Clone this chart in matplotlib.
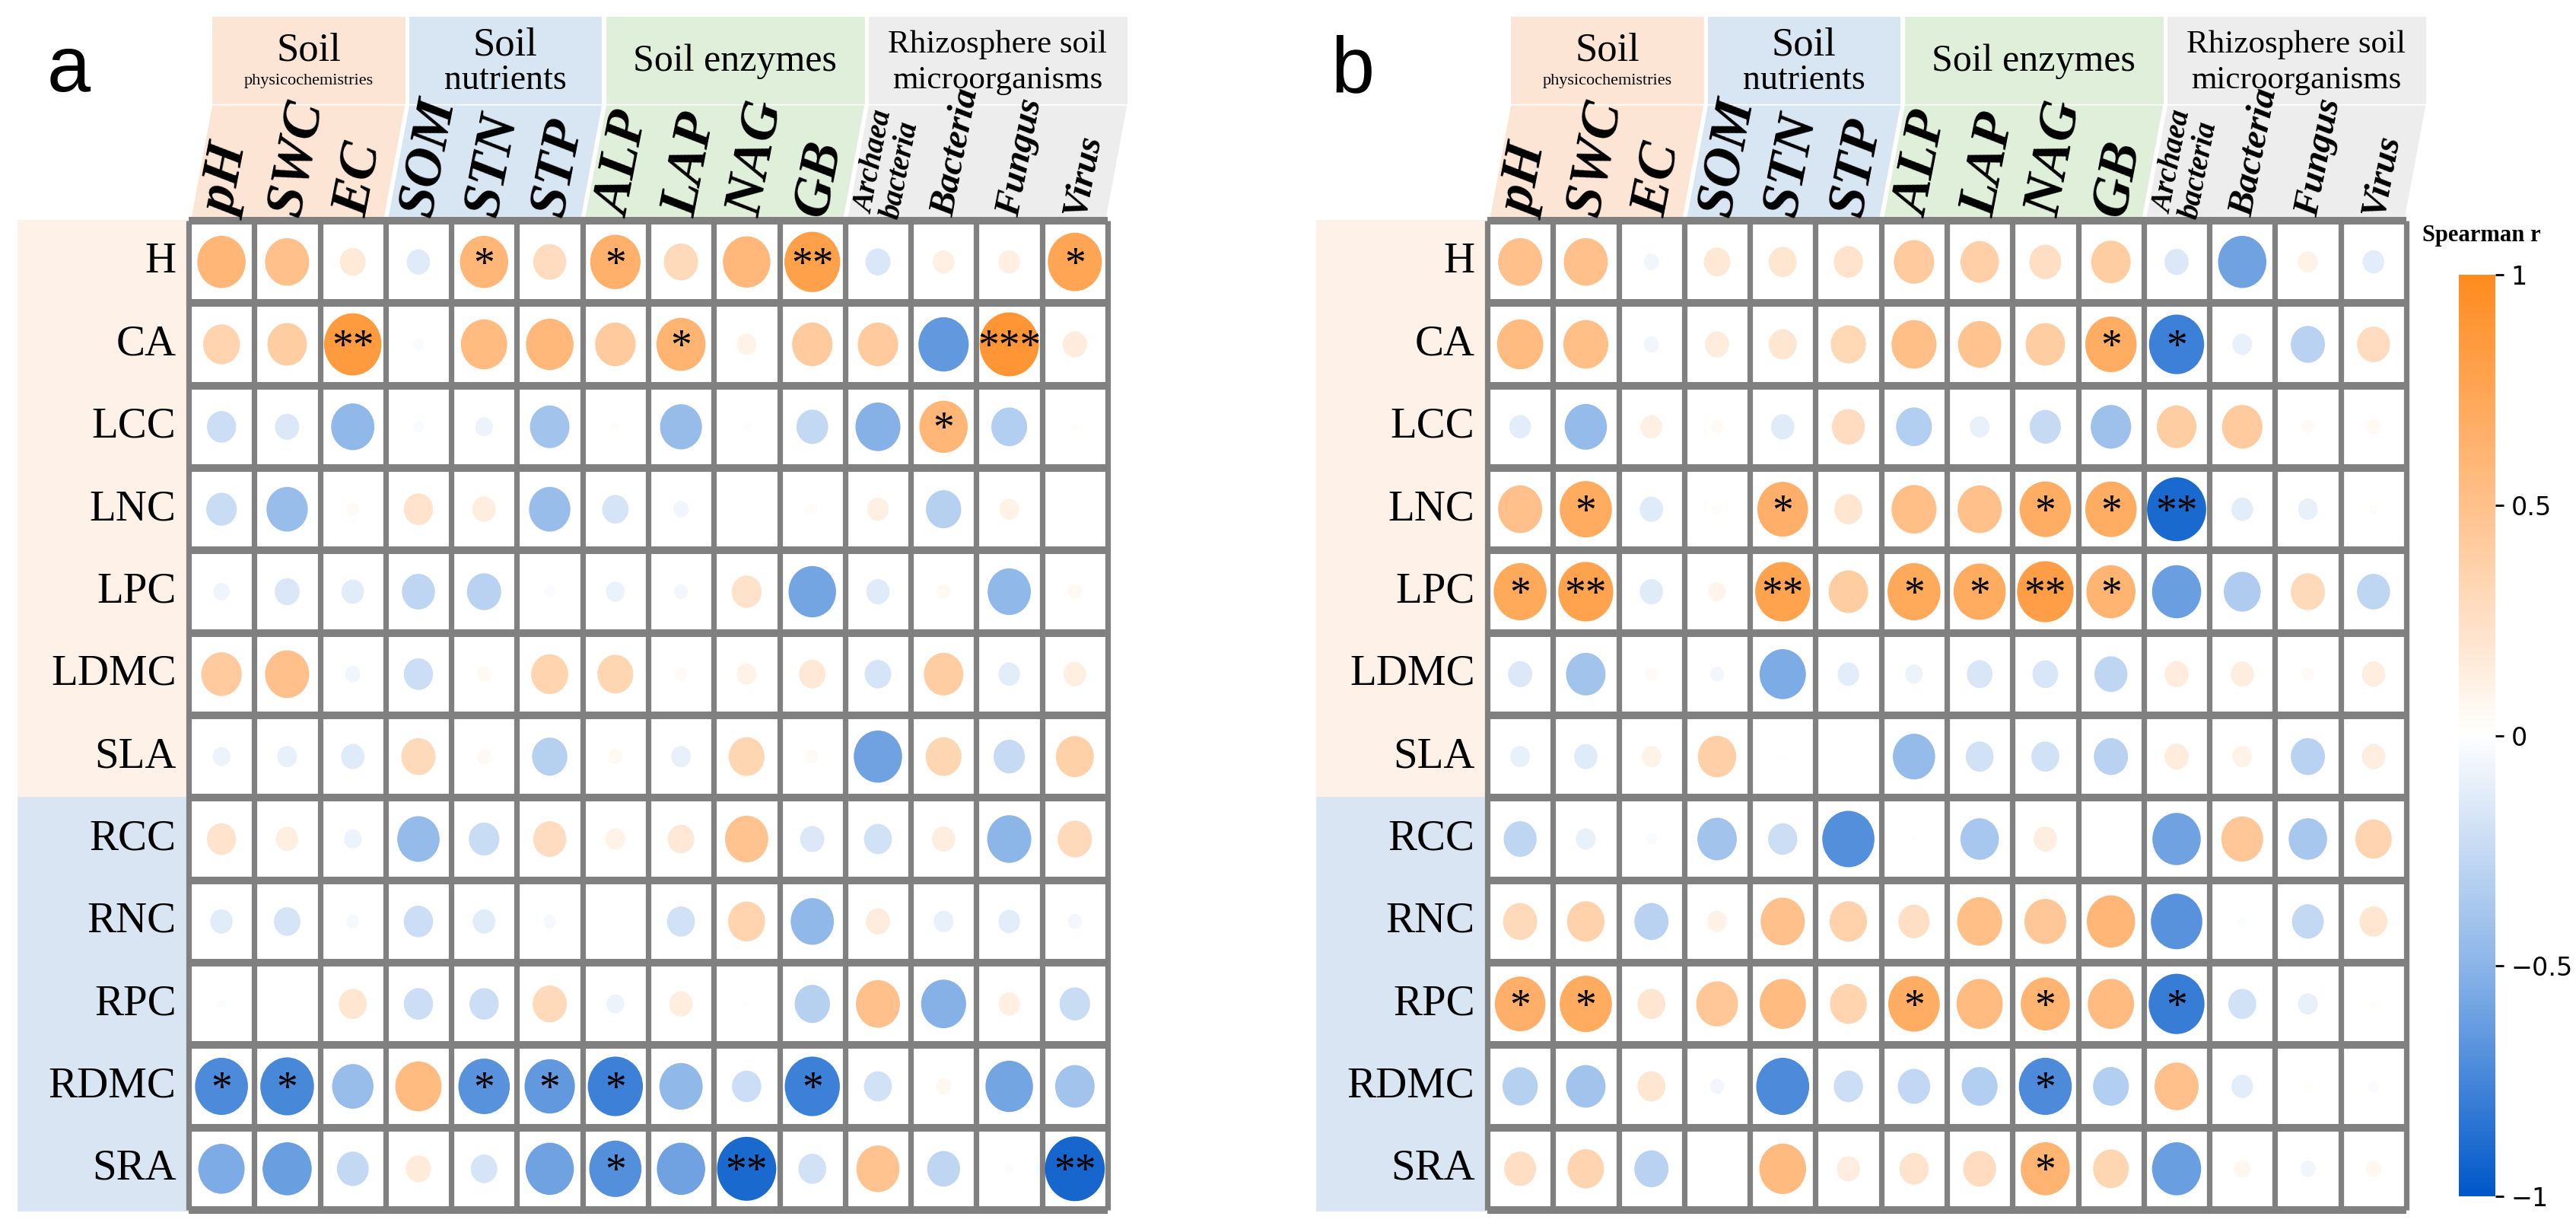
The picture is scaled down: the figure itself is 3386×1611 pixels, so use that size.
import numpy as np
import matplotlib.pyplot as plt
from matplotlib.collections import EllipseCollection
from matplotlib.colors import LinearSegmentedColormap, Normalize
from matplotlib.patches import Polygon, Rectangle

# ---- data -------------------------------------------------------------
traits = ['H', 'CA', 'LCC', 'LNC', 'LPC', 'LDMC', 'SLA',
          'RCC', 'RNC', 'RPC', 'RDMC', 'SRA']
trait_groups = [7, 5]          # leaf / root traits
soil_vars = ['pH', 'SWC', 'EC', 'SOM', 'STN', 'STP', 'ALP', 'LAP', 'NAG', 'GB',
             'Archaea\nbacteria', 'Bacteria', 'Fungus', 'Virus']
var_groups = ['Soil\n', 'Soil\nnutrients', 'Soil enzymes',
              'Rhizosphere soil\nmicroorganisms']
var_group_n = [3, 3, 4, 4]

r_a = [
    [0.60, 0.50, 0.17, -0.14, 0.60, 0.28, 0.65, 0.30, 0.58, 0.80, -0.16, 0.12, 0.12, 0.75],
    [0.35, 0.40, 0.85, -0.03, 0.55, 0.58, 0.42, 0.62, 0.10, 0.42, 0.42, -0.65, 0.90, 0.15],
    [-0.22, -0.15, -0.48, -0.03, -0.08, -0.40, 0.02, -0.45, 0.02, -0.26, -0.52, 0.60, -0.33, 0.02],
    [-0.24, -0.44, 0.04, 0.22, 0.14, -0.44, -0.18, -0.06, 0.00, 0.03, 0.12, -0.32, 0.10, 0.00],
    [-0.07, -0.16, -0.13, -0.28, -0.30, -0.03, -0.09, -0.05, 0.23, -0.58, -0.14, 0.05, -0.48, 0.05],
    [0.42, 0.50, -0.06, -0.22, 0.05, 0.35, 0.33, 0.04, 0.10, 0.18, -0.18, 0.40, -0.12, 0.13],
    [-0.08, -0.10, -0.14, 0.30, 0.05, -0.32, 0.05, -0.10, 0.33, 0.04, -0.60, 0.33, -0.25, 0.37],
    [0.22, 0.13, -0.08, -0.46, -0.24, 0.28, 0.10, 0.18, 0.48, -0.15, -0.20, 0.14, -0.50, 0.30],
    [-0.13, -0.18, -0.04, -0.22, -0.13, -0.04, 0.00, -0.20, 0.35, -0.48, 0.15, -0.10, -0.12, -0.05],
    [-0.02, 0.00, 0.20, -0.22, -0.22, 0.30, -0.08, 0.14, 0.01, -0.32, 0.50, -0.52, 0.12, -0.24],
    [-0.72, -0.74, -0.44, 0.55, -0.68, -0.65, -0.78, -0.48, -0.22, -0.78, -0.20, 0.06, -0.58, -0.40],
    [-0.55, -0.62, -0.26, 0.16, -0.18, -0.60, -0.70, -0.60, -0.90, -0.20, 0.48, -0.28, -0.02, -0.92],
]
sig_a = [
    ['', '', '', '', '*', '', '*', '', '', '**', '', '', '', '*'],
    ['', '', '**', '', '', '', '', '*', '', '', '', '', '***', ''],
    ['', '', '', '', '', '', '', '', '', '', '', '*', '', ''],
    [''] * 14, [''] * 14, [''] * 14, [''] * 14, [''] * 14, [''] * 14, [''] * 14,
    ['*', '*', '', '', '*', '*', '*', '', '', '*', '', '', '', ''],
    ['', '', '', '', '', '', '*', '', '**', '', '', '', '', '**'],
]

r_b = [
    [0.50, 0.50, -0.06, 0.18, 0.20, 0.22, 0.42, 0.38, 0.26, 0.40, -0.15, -0.60, 0.10, -0.12],
    [0.55, 0.52, -0.06, 0.15, 0.20, 0.32, 0.52, 0.48, 0.40, 0.68, -0.78, -0.10, -0.30, 0.28],
    [-0.12, -0.46, 0.12, 0.04, -0.14, 0.28, -0.33, -0.10, -0.25, -0.42, 0.40, 0.42, 0.04, 0.05],
    [0.50, 0.70, -0.14, 0.03, 0.66, 0.20, 0.52, 0.50, 0.68, 0.68, -0.90, -0.12, -0.10, 0.02],
    [0.72, 0.78, -0.14, 0.08, 0.78, 0.40, 0.72, 0.70, 0.82, 0.62, -0.62, -0.35, 0.30, -0.28],
    [-0.15, -0.40, 0.04, -0.05, -0.55, -0.12, -0.08, -0.17, -0.17, -0.28, 0.15, 0.14, 0.04, 0.14],
    [-0.10, -0.14, 0.10, 0.38, 0.01, 0.00, -0.46, -0.20, -0.20, -0.30, 0.15, 0.10, -0.30, 0.14],
    [-0.28, -0.10, -0.03, -0.40, -0.22, -0.70, 0.01, -0.38, 0.14, 0.00, -0.60, 0.45, -0.38, 0.34],
    [0.30, 0.36, -0.30, 0.10, 0.50, 0.36, 0.25, 0.52, 0.45, 0.60, -0.68, -0.02, -0.26, 0.20],
    [0.66, 0.70, 0.20, 0.45, 0.55, 0.35, 0.68, 0.55, 0.62, 0.55, -0.80, -0.20, -0.10, 0.02],
    [-0.32, -0.40, 0.20, -0.05, -0.72, -0.22, -0.27, -0.33, -0.72, -0.33, 0.50, -0.12, 0.02, -0.03],
    [0.26, 0.34, -0.30, 0.01, 0.56, 0.14, 0.22, 0.28, 0.62, 0.33, -0.62, 0.07, -0.06, 0.06],
]
sig_b = [
    [''] * 14,
    ['', '', '', '', '', '', '', '', '', '*', '*', '', '', ''],
    [''] * 14,
    ['', '*', '', '', '*', '', '', '', '*', '*', '**', '', '', ''],
    ['*', '**', '', '', '**', '', '*', '*', '**', '*', '', '', '', ''],
    [''] * 14, [''] * 14, [''] * 14, [''] * 14,
    ['*', '*', '', '', '', '', '*', '', '*', '', '*', '', '', ''],
    ['', '', '', '', '', '', '', '', '*', '', '', '', '', ''],
    ['', '', '', '', '', '', '', '', '*', '', '', '', '', ''],
]

# ---- style ------------------------------------------------------------
serif = 'Liberation Serif'
cmap = LinearSegmentedColormap.from_list(
    'spear', [(0, '#0057C9'), (0.25, '#8CB5E8'), (0.5, '#FFFFFF'),
              (0.75, '#FFC18C'), (1, '#FF8B1F')])
norm = Normalize(-1, 1)
group_cols = ['#FDE5D6', '#D8E5F3', '#DFEFDA', '#EDEDED']
band_cols = ['#FDF1E8', '#DAE5F3']
grid_col = '#808080'

W, H = 3386, 1611
fig = plt.figure(figsize=(W / 200, H / 200), dpi=200)

nrow, ncol = len(traits), len(soil_vars)
px_w, px_h = 1208 / ncol, 1300 / nrow          # cell size in pixels
skew = 28 / px_w
band_h = 150 / px_h
top_lo, top_hi = 155 / px_h, 267 / px_h


def panel(left, r, sig, label, label_x):
    ax = fig.add_axes([left / W, 21 / H, 1208 / W, 1300 / H])
    ax.set_xlim(0, ncol)
    ax.set_ylim(nrow, 0)
    ax.axis('off')
    r = np.asarray(r)

    # row bands + labels
    y0 = 0
    for n, c in zip(trait_groups, band_cols):
        ax.add_patch(Rectangle((-2.6, y0), 2.6, n, color=c, clip_on=False, zorder=0))
        y0 += n
    for i, t in enumerate(traits):
        ax.text(-0.19, i + 0.5, t, ha='right', va='center', fontsize=20.5,
                family=serif)

    # column header bands
    g = 0.05
    x0 = 0
    for name, n, c in zip(var_groups, var_group_n, group_cols):
        x1 = x0 + n
        ax.add_patch(Polygon([(x0 + g, 0), (x1 - g, 0), (x1 - g + skew, -band_h),
                              (x0 + g + skew, -band_h)], closed=True, color=c,
                             clip_on=False, zorder=0))
        ax.add_patch(Rectangle((x0 + g + skew, -top_hi), n - 2 * g, top_hi - top_lo,
                               color=c, clip_on=False, zorder=0))
        xc = (x0 + x1) / 2 + skew
        if name == 'Soil\n':
            ax.text(xc, -2.06, 'Soil', ha='center', va='center', fontsize=19, family=serif)
            ax.text(xc, -1.69, 'physicochemistries', ha='center', va='center',
                    fontsize=8, family=serif)
        elif name == 'Soil enzymes':
            ax.text(xc, -1.93, name, ha='center', va='center', fontsize=18, family=serif)
        else:
            a, b = name.split('\n')
            fs = 19 if a == 'Soil' else 15.5
            ax.text(xc, -2.13, a, ha='center', va='center', fontsize=fs, family=serif)
            ax.text(xc, -1.70, b, ha='center', va='center', fontsize=15.5 if a != 'Soil' else 16.5,
                    family=serif)
        x0 = x1

    # column labels
    for j, v in enumerate(soil_vars):
        if j < 10:
            fs = 26
        elif '\n' in v:
            fs = 14
        else:
            fs = 17.5
        ax.text(j + 0.5, -0.06, v, rotation=79, rotation_mode='anchor',
                ha='left', va='center', fontsize=fs, family=serif,
                fontweight='bold', fontstyle='italic', linespacing=0.95)

    # grid
    ax.vlines(np.arange(ncol + 1), 0, nrow, colors=grid_col, lw=2.6, clip_on=False, zorder=2)
    ax.hlines(np.arange(nrow + 1), 0, ncol, colors=grid_col, lw=3.6, clip_on=False, zorder=2)

    # circles (area ~ |r|)
    yy, xx = np.mgrid[0:nrow, 0:ncol]
    d = 0.95 * np.sqrt(np.abs(r)).ravel()
    coll = EllipseCollection(d, d * px_w / px_h * 1.08, np.zeros_like(d), units='xy',
                             offsets=np.column_stack([xx.ravel() + 0.5, yy.ravel() + 0.5]),
                             offset_transform=ax.transData, cmap=cmap, norm=norm,
                             zorder=3)
    coll.set_array(r.ravel())
    ax.add_collection(coll)

    for i in range(nrow):
        for j in range(ncol):
            if sig[i][j]:
                ax.text(j + 0.5, i + 0.55, sig[i][j], ha='center', va='center',
                        fontsize=20, family=serif, zorder=4)

    fig.text(label_x / W, 1 - 120 / H, label, fontsize=37, family='Liberation Sans',
             va='baseline', ha='left')
    return coll


panel(248, r_a, sig_a, 'a', 62)
coll = panel(1955, r_b, sig_b, 'b', 1749)

cax = fig.add_axes([3232 / W, 1 - 1572 / H, 48 / W, 1211 / H])
cb = fig.colorbar(coll, cax=cax, ticks=[-1, -0.5, 0, 0.5, 1])
cb.outline.set_visible(False)
cax.tick_params(labelsize=12, length=4, width=1)
cax.set_yticklabels(['\u22121', '\u22120.5', '0', '0.5', '1'])
fig.text(3262 / W, 1 - 310 / H, 'Spearman r', ha='center', va='center', fontsize=11,
         family=serif, fontweight='bold')

fig.savefig('out.png', dpi=200, facecolor='white')
